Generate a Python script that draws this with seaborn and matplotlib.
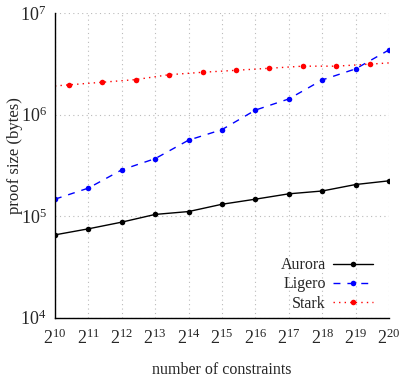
import numpy as np
import pandas as pd
import matplotlib
matplotlib.use("Agg")
import matplotlib.pyplot as plt
import seaborn as sns

# powers of two on the x axis
exponents = list(range(10, 21))
aurora = [6.54e4, 7.50e4, 8.73e4, 1.04e5, 1.11e5, 1.31e5, 1.47e5, 1.66e5, 1.77e5, 2.05e5, 2.23e5]
ligero = [1.47e5, 1.89e5, 2.86e5, 3.69e5, 5.61e5, 7.13e5, 1.11e6, 1.43e6, 2.20e6, 2.83e6, 4.35e6]
# stark points sit a bit right of each power; line runs edge to edge
stark_exp = [10.0, 10.42, 11.42, 12.42, 13.42, 14.42, 15.42, 16.42, 17.42, 18.42, 19.42, 20.0]
stark = [1.92e6, 1.97e6, 2.09e6, 2.22e6, 2.48e6, 2.62e6, 2.74e6, 2.87e6, 3.01e6, 3.01e6, 3.15e6, 3.24e6]

sns.set_style("white")
plt.rcParams["font.family"] = ["Liberation Serif", "DejaVu Serif"]
plt.rcParams["mathtext.fontset"] = "custom"
plt.rcParams["mathtext.rm"] = "Liberation Serif"
plt.rcParams["mathtext.it"] = "Liberation Serif:italic"

df_a = pd.DataFrame({"n": [2.0 ** e for e in exponents], "size": aurora})
df_l = pd.DataFrame({"n": [2.0 ** e for e in exponents], "size": ligero})
df_s = pd.DataFrame({"n": [2.0 ** e for e in stark_exp], "size": stark})

fig = plt.figure(figsize=(4.01, 3.79), dpi=100)
ax = fig.add_axes([0.137, 0.162, 0.833, 0.803])

sns.lineplot(data=df_a, x="n", y="size", ax=ax, color="black", lw=1.0,
             marker="o", markersize=4, markeredgewidth=0, label="Aurora")
sns.lineplot(data=df_l, x="n", y="size", ax=ax, color="blue", lw=1.0,
             dashes=False, marker="o", markersize=4, markeredgewidth=0, label="Ligero")
ax.lines[-1].set_dashes([5, 5])
sns.lineplot(data=df_s, x="n", y="size", ax=ax, color="red", lw=1.0,
             marker="o", markersize=4, markeredgewidth=0, label="Stark",
             markevery=list(range(1, len(stark) - 1)))
ax.lines[-1].set_linestyle((0, (1, 3)))

ax.set_xscale("log", base=2)
ax.set_yscale("log")
ax.set_xlim(2 ** 10, 2 ** 20)
ax.set_ylim(1e4, 1e7)
ax.set_xticks([2.0 ** e for e in exponents])
ax.set_xticklabels([rf"$2^{{{e}}}$" for e in exponents])
ax.xaxis.set_minor_locator(matplotlib.ticker.NullLocator())
ax.set_yticks([1e4, 1e5, 1e6, 1e7])
ax.set_yticklabels([rf"$10^{{{e}}}$" for e in range(4, 8)])
ax.yaxis.set_minor_locator(matplotlib.ticker.LogLocator(base=10, subs=np.arange(2, 10)))
ax.yaxis.set_minor_formatter(matplotlib.ticker.NullFormatter())

ax.tick_params(axis="both", which="major", direction="in", length=6, width=1,
               labelsize=13, pad=6)
ax.tick_params(axis="x", which="major", pad=8)
ax.tick_params(axis="y", which="minor", direction="in", length=3.5, width=0.8)
ax.grid(True, which="major", color="#bbbbbb", linestyle=(0, (1, 3)), lw=0.8)

for side in ["top", "right"]:
    ax.spines[side].set_visible(False)
for side in ["left", "bottom"]:
    ax.spines[side].set_color("black")
    ax.spines[side].set_linewidth(1.0)

ax.set_xlabel("number of constraints", fontsize=11.5, labelpad=10)
ax.set_ylabel("proof size (bytes)", fontsize=12)
ax.yaxis.set_label_coords(-0.096, 0.531)

ax.legend(loc="lower right", frameon=False, markerfirst=False, fontsize=11.5,
          handlelength=2.5, handletextpad=0.45, labelspacing=0.2,
          borderpad=0, borderaxespad=0, bbox_to_anchor=(0.952, 0.02))

fig.savefig("out.png", dpi=100)
